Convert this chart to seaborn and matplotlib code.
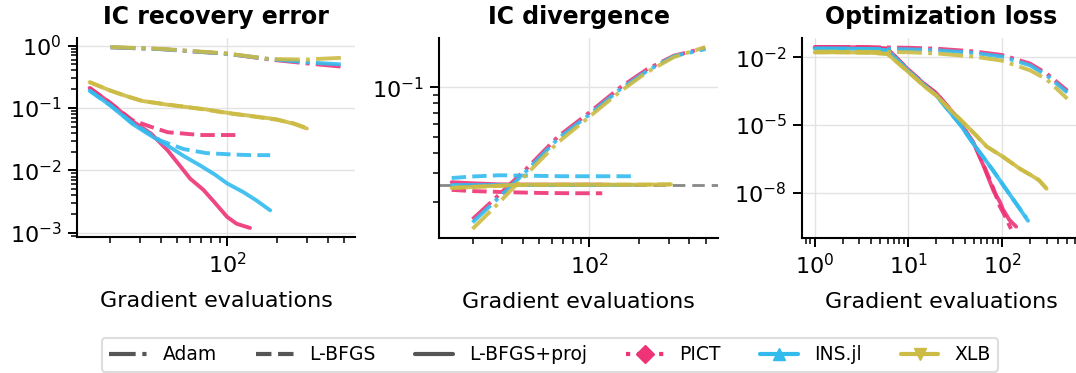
import numpy as np
import pandas as pd
import matplotlib
matplotlib.use("Agg")
import matplotlib.pyplot as plt
from matplotlib.lines import Line2D
from matplotlib.ticker import NullFormatter, NullLocator, FixedLocator, LogFormatterSciNotation
import seaborn as sns

# ---------------- data ----------------
solvers = ["PICT", "INS.jl", "XLB"]
methods = ["Adam", "L-BFGS", "L-BFGS+proj"]
panel_titles = ["IC recovery error", "IC divergence", "Optimization loss"]
xlabel = "Gradient evaluations"
colors = ["#EE3377", "#33BBEE", "#CCBB44"]

# Panel 1: IC recovery error
p1_adam_x = [20, 40, 100, 180, 300, 490]
p1_adam_pict = [0.94, 0.88, 0.74, 0.60, 0.52, 0.46]
p1_adam_ins = [0.94, 0.88, 0.74, 0.61, 0.54, 0.50]
p1_adam_xlb = [0.95, 0.89, 0.75, 0.61, 0.60, 0.64]

p1_lbfgs_pict_x = [15, 20, 27, 35, 44, 55, 69, 90, 117]
p1_lbfgs_pict = [0.21, 0.12, 0.064, 0.050, 0.041, 0.039, 0.037, 0.037, 0.037]
p1_lbfgs_ins_x = [15, 20, 27, 40, 55, 75, 109, 140, 181]
p1_lbfgs_ins = [0.19, 0.11, 0.058, 0.030, 0.022, 0.019, 0.018, 0.0176, 0.0176]
p1_lbfgs_xlb_x = [15, 20, 25, 31, 44, 57, 75, 100, 144, 198, 250, 300]
p1_lbfgs_xlb = [0.26, 0.19, 0.155, 0.13, 0.114, 0.104, 0.094, 0.083, 0.073, 0.065, 0.057, 0.048]

p1_proj_pict_x = [15, 20, 27, 35, 44, 52, 60, 72, 83, 100, 114, 137]
p1_proj_pict = [0.21, 0.12, 0.062, 0.039, 0.021, 0.012, 0.0074, 0.0049, 0.0032, 0.0018, 0.0014, 0.0012]
p1_proj_ins_x = [15, 20, 27, 35, 44, 55, 69, 85, 100, 125, 150, 181]
p1_proj_ins = [0.19, 0.11, 0.056, 0.036, 0.025, 0.017, 0.012, 0.0085, 0.0062, 0.0045, 0.0033, 0.0023]
p1_proj_xlb_x = [15, 20, 25, 31, 44, 57, 75, 100, 144, 198, 250, 300]
p1_proj_xlb = [0.26, 0.19, 0.155, 0.13, 0.113, 0.104, 0.095, 0.084, 0.074, 0.066, 0.056, 0.047]

# Panel 2: IC divergence
p2_adam_x = [20, 27, 42, 65, 100, 153, 223, 323, 498]
p2_adam_pict = [0.0157, 0.0208, 0.0318, 0.0500, 0.0700, 0.0995, 0.129, 0.156, 0.174]
p2_adam_ins = [0.0150, 0.0200, 0.0308, 0.0485, 0.0680, 0.0970, 0.126, 0.155, 0.171]
p2_adam_xlb = [0.0137, 0.0185, 0.0294, 0.0461, 0.0659, 0.0940, 0.124, 0.153, 0.176]

p2_lbfgs_pict_x = [15, 20, 30, 50, 80, 120]
p2_lbfgs_pict = [0.0237, 0.0233, 0.0230, 0.0227, 0.0226, 0.0226]
p2_lbfgs_ins_x = [15, 20, 29, 45, 70, 110, 182]
p2_lbfgs_ins = [0.0280, 0.0286, 0.0291, 0.0289, 0.0287, 0.0287, 0.0287]
p2_lbfgs_xlb_x = [15, 20, 30, 40, 70, 120, 200, 310]
p2_lbfgs_xlb = [0.0244, 0.0247, 0.0251, 0.0254, 0.0255, 0.0255, 0.0255, 0.0256]

p2_proj_pict_x = [15, 20, 29, 50, 80, 120]
p2_proj_pict = [0.0264, 0.0260, 0.0256, 0.0255, 0.0255, 0.0255]
p2_proj_ins_x = [15, 20, 30, 50, 80, 120, 182]
p2_proj_ins = [0.0255, 0.0255, 0.0255, 0.0255, 0.0255, 0.0255, 0.0255]
p2_proj_xlb_x = [15, 20, 30, 40, 70, 120, 200, 310]
p2_proj_xlb = [0.0243, 0.0247, 0.0252, 0.0255, 0.0255, 0.0255, 0.0255, 0.0256]

p2_reference = 0.0255

# Panel 3: Optimization loss
p3_adam_x = [1, 2, 5, 10, 20, 50, 100, 200, 300, 500]
p3_adam_pict = [2.82e-2, 2.82e-2, 2.75e-2, 2.63e-2, 2.40e-2, 1.82e-2, 1.26e-2, 5.25e-3, 1.91e-3, 3.31e-4]
p3_adam_ins = [2.40e-2, 2.40e-2, 2.34e-2, 2.24e-2, 2.04e-2, 1.55e-2, 1.07e-2, 4.37e-3, 1.58e-3, 2.75e-4]
p3_adam_xlb = [1.78e-2, 1.78e-2, 1.74e-2, 1.66e-2, 1.48e-2, 1.07e-2, 7.08e-3, 2.63e-3, 1.05e-3, 1.45e-4]

p3_proj_pict_x = [1, 2, 4, 6, 8, 10, 15, 20, 30, 36, 50, 65, 81, 95, 103, 120, 142]
p3_proj_pict = [2.82e-2, 2.82e-2, 2.69e-2, 2.40e-2, 7.08e-3, 2.82e-3, 6.31e-4, 2.51e-4, 3.55e-5,
                1.20e-5, 1.58e-6, 1.26e-7, 1.26e-8, 3.98e-9, 1.78e-9, 6.31e-10, 3.16e-10]
p3_proj_ins_x = [1, 2, 4, 6, 8, 10, 15, 20, 30, 36, 50, 80, 120, 190]
p3_proj_ins = [2.40e-2, 2.40e-2, 2.29e-2, 2.00e-2, 6.31e-3, 2.51e-3, 5.62e-4, 2.00e-4, 2.51e-5,
               1.02e-5, 1.41e-6, 1.00e-7, 8.91e-9, 5.75e-10]
p3_proj_xlb_x = [1, 2, 4, 6, 8, 10, 15, 20, 30, 36, 50, 69, 103, 155, 206, 250, 300]
p3_proj_xlb = [1.66e-2, 1.66e-2, 1.58e-2, 1.41e-2, 5.01e-3, 2.24e-3, 5.01e-4, 2.00e-4, 3.55e-5,
               1.74e-5, 4.47e-6, 1.10e-6, 3.89e-7, 1.17e-7, 5.89e-8, 3.55e-8, 1.51e-8]

p3_lbfgs_pict_x = [1, 2, 4, 6, 8, 10, 15, 20, 30, 36, 50, 65, 81, 95, 110, 125]
p3_lbfgs_pict = [2.82e-2, 2.82e-2, 2.69e-2, 2.40e-2, 7.08e-3, 2.82e-3, 6.31e-4, 2.51e-4, 3.55e-5,
                 1.20e-5, 1.58e-6, 1.41e-7, 1.58e-8, 2.51e-9, 7.94e-10, 2.51e-10]
p3_lbfgs_ins_x = [1, 2, 4, 6, 8, 10, 15, 20, 30, 36, 50, 80, 120, 182]
p3_lbfgs_ins = [2.40e-2, 2.40e-2, 2.29e-2, 2.00e-2, 6.31e-3, 2.51e-3, 5.62e-4, 2.00e-4, 2.51e-5,
                1.02e-5, 1.41e-6, 1.00e-7, 8.91e-9, 7.94e-10]
p3_lbfgs_xlb_x = p3_proj_xlb_x
p3_lbfgs_xlb = p3_proj_xlb

# ---------------- long-form table ----------------
series = [
    (0, "Adam", "PICT", p1_adam_x, p1_adam_pict), (0, "Adam", "INS.jl", p1_adam_x, p1_adam_ins),
    (0, "Adam", "XLB", p1_adam_x, p1_adam_xlb),
    (0, "L-BFGS", "PICT", p1_lbfgs_pict_x, p1_lbfgs_pict), (0, "L-BFGS", "INS.jl", p1_lbfgs_ins_x, p1_lbfgs_ins),
    (0, "L-BFGS", "XLB", p1_lbfgs_xlb_x, p1_lbfgs_xlb),
    (0, "L-BFGS+proj", "PICT", p1_proj_pict_x, p1_proj_pict), (0, "L-BFGS+proj", "INS.jl", p1_proj_ins_x, p1_proj_ins),
    (0, "L-BFGS+proj", "XLB", p1_proj_xlb_x, p1_proj_xlb),
    (1, "Adam", "PICT", p2_adam_x, p2_adam_pict), (1, "Adam", "INS.jl", p2_adam_x, p2_adam_ins),
    (1, "Adam", "XLB", p2_adam_x, p2_adam_xlb),
    (1, "L-BFGS", "PICT", p2_lbfgs_pict_x, p2_lbfgs_pict), (1, "L-BFGS", "INS.jl", p2_lbfgs_ins_x, p2_lbfgs_ins),
    (1, "L-BFGS", "XLB", p2_lbfgs_xlb_x, p2_lbfgs_xlb),
    (1, "L-BFGS+proj", "PICT", p2_proj_pict_x, p2_proj_pict), (1, "L-BFGS+proj", "INS.jl", p2_proj_ins_x, p2_proj_ins),
    (1, "L-BFGS+proj", "XLB", p2_proj_xlb_x, p2_proj_xlb),
    (2, "Adam", "PICT", p3_adam_x, p3_adam_pict), (2, "Adam", "INS.jl", p3_adam_x, p3_adam_ins),
    (2, "Adam", "XLB", p3_adam_x, p3_adam_xlb),
    (2, "L-BFGS", "PICT", p3_lbfgs_pict_x, p3_lbfgs_pict), (2, "L-BFGS", "INS.jl", p3_lbfgs_ins_x, p3_lbfgs_ins),
    (2, "L-BFGS", "XLB", p3_lbfgs_xlb_x, p3_lbfgs_xlb),
    (2, "L-BFGS+proj", "PICT", p3_proj_pict_x, p3_proj_pict), (2, "L-BFGS+proj", "INS.jl", p3_proj_ins_x, p3_proj_ins),
    (2, "L-BFGS+proj", "XLB", p3_proj_xlb_x, p3_proj_xlb),
]
rows = []
for panel, method, solver, xs, ys in series:
    for xv, yv in zip(xs, ys):
        rows.append({"panel": panel, "method": method, "solver": solver, "x": xv, "y": yv})
df = pd.DataFrame(rows)

# ---------------- plot ----------------
sns.set_theme(style="ticks")
plt.rcParams["font.family"] = ["DejaVu Sans"]
plt.rcParams["text.color"] = "black"
plt.rcParams["axes.labelcolor"] = "black"
plt.rcParams["xtick.color"] = "black"
plt.rcParams["ytick.color"] = "black"

W, H = 1076, 373
fig = plt.figure(figsize=(W / 100, H / 100), dpi=100)
ax_rects = [(77, 38, 278, 199), (439, 38, 279, 200), (802, 38, 278, 200)]
axes = [fig.add_axes([l / W, (H - t - h) / H, w / W, h / H]) for (l, t, w, h) in ax_rects]

palette = dict(zip(solvers, colors))
dashes = {"Adam": (6.4, 1.6, 1.0, 1.6), "L-BFGS": (3.7, 1.6), "L-BFGS+proj": ""}

for i, ax in enumerate(axes):
    sub = df[df["panel"] == i]
    sns.lineplot(data=sub, x="x", y="y", hue="solver", style="method",
                 hue_order=solvers, style_order=methods, palette=palette,
                 dashes=dashes, estimator=None, sort=False, lw=2.8, alpha=0.9,
                 legend=False, ax=ax)
    if i == 1:
        ax.axhline(p2_reference, color="#888888", lw=2, ls=(0, (4.5, 2.5)), zorder=1)
    ax.set_xscale("log")
    ax.set_yscale("log")
    ax.set_title(panel_titles[i], fontsize=17, fontweight="bold", color="black", pad=10)
    ax.set_xlabel(xlabel, fontsize=16, labelpad=10, color="black")
    ax.set_ylabel("")
    ax.grid(True, which="major", color="#e3e3e3", lw=1)
    ax.set_axisbelow(True)
    ax.xaxis.set_minor_formatter(NullFormatter())
    ax.yaxis.set_minor_formatter(NullFormatter())
    ax.tick_params(which="major", length=6.5, width=1.4, labelsize=16, pad=4.5, colors="black")
    ax.tick_params(which="minor", length=4, width=1.1, colors="black")
    for s in ("left", "bottom"):
        ax.spines[s].set_linewidth(1.5)
        ax.spines[s].set_color("black")
    sns.despine(ax=ax)

axes[2].yaxis.set_major_locator(FixedLocator([1e-2, 1e-5, 1e-8]))
axes[2].yaxis.set_major_formatter(LogFormatterSciNotation())
axes[2].yaxis.set_minor_locator(NullLocator())

# ---------------- legend ----------------
gray = "#555555"
handles = [
    Line2D([], [], color=gray, lw=3, ls="-."),
    Line2D([], [], color=gray, lw=3, ls="--"),
    Line2D([], [], color=gray, lw=3, ls="-"),
    Line2D([], [], color=colors[0], lw=3, ls=":", marker="D", ms=9),
    Line2D([], [], color=colors[1], lw=3, ls="-", marker="^", ms=8),
    Line2D([], [], color=colors[2], lw=3, ls="-", marker="v", ms=8),
]
labels = methods + solvers
leg = fig.legend(handles, labels, loc="lower center", bbox_to_anchor=(0.511, 0.003),
                 ncol=6, fontsize=13.5, frameon=True, fancybox=True, borderaxespad=0,
                 handlelength=2.0, columnspacing=2.1, handletextpad=0.85)
leg.get_frame().set_edgecolor("#d5d5d5")
leg.get_frame().set_linewidth(1.5)
for t in leg.get_texts():
    t.set_color("black")

fig.savefig("out.png", dpi=100)
